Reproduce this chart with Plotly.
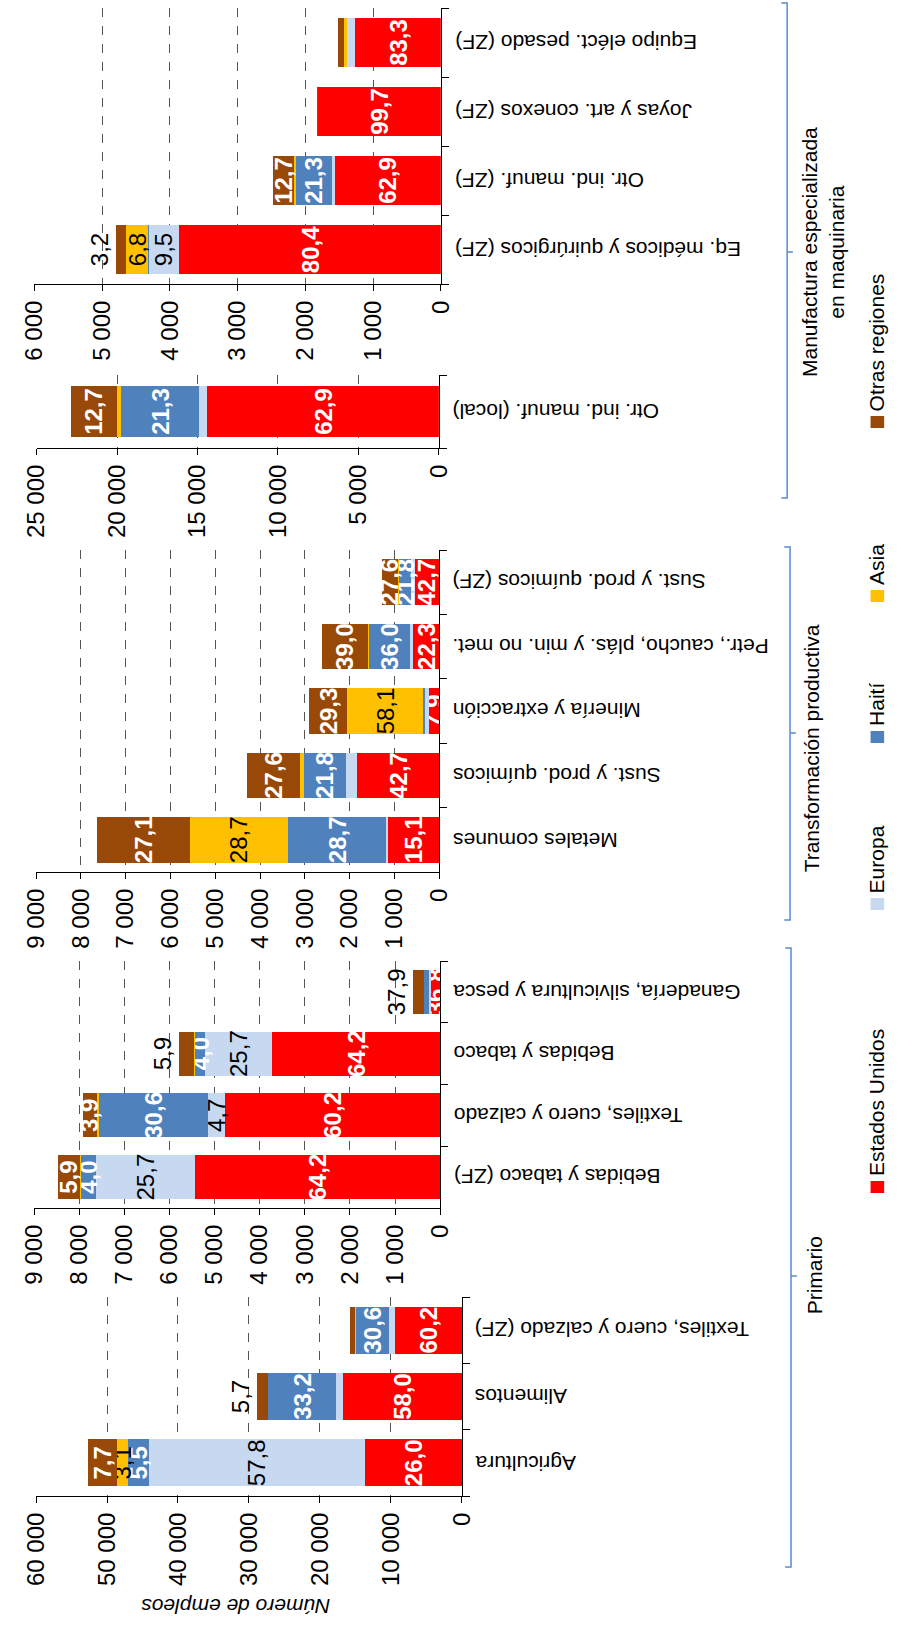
import plotly.graph_objects as go

W, H = 902, 1629

# ---------------- data ----------------
regions = ["Estados Unidos", "Europa", "Haití", "Asia", "Otras regiones"]
colors = ["#FF0000", "#C6D9F1", "#4F81BD", "#FFC000", "#984807"]

# Panel 1 (Primario)
cats_p1 = ["Agricultura", "Alimentos", "Textiles, cuero y calzado (ZF)"]
total_p1 = [52600, 28930, 15720]
us_p1 = [26.0, 58.0, 60.2]
eu_p1 = [57.8, 3.1, 4.7]
ht_p1 = [5.5, 33.2, 30.6]
as_p1 = [3.1, 0.0, 0.6]
ot_p1 = [7.7, 5.7, 3.9]
show_p1 = [[1, 1, 1], [1, 0, 0], [1, 1, 1], [1, 0, 0], [1, 2, 0]]

# Panel 2 (Primario)
cats_p2 = ["Bebidas y tabaco (ZF)", "Textiles, cuero y calzado", "Bebidas y tabaco",
           "Ganadería, silvicultura y pesca"]
total_p2 = [8480, 7920, 5790, 594]
us_p2 = [64.2, 60.2, 64.2, 36.8]
eu_p2 = [25.7, 4.7, 25.7, 3.0]
ht_p2 = [4.0, 30.6, 4.0, 22.3]
as_p2 = [0.2, 0.6, 0.2, 0.0]
ot_p2 = [5.9, 3.9, 5.9, 37.9]
show_p2 = [[1, 1, 1, 1], [1, 1, 1, 0], [1, 1, 1, 0], [0, 0, 0, 0], [1, 1, 2, 2]]

# Panel 3 (Transformación productiva)
cats_p3 = ["Metales comunes", "Sust. y prod. químicos", "Minería y extracción",
           "Petr., caucho, plás. y min. no met.", "Sust. y prod. químicos (ZF)"]
total_p3 = [7640, 4290, 2900, 2620, 1280]
us_p3 = [15.1, 42.7, 7.9, 22.3, 42.7]
eu_p3 = [0.4, 5.9, 3.0, 2.2, 5.9]
ht_p3 = [28.7, 21.8, 1.7, 36.0, 21.8]
as_p3 = [28.7, 2.0, 58.1, 0.5, 2.0]
ot_p3 = [27.1, 27.6, 29.3, 39.0, 27.6]
show_p3 = [[1, 1, 1, 1, 1], [0, 0, 0, 0, 0], [1, 1, 0, 1, 1], [1, 0, 1, 0, 0], [1, 1, 1, 1, 1]]

# Panel 4 (Manufactura especializada)
cats_p4 = ["Otr. ind. manuf. (local)"]
total_p4 = [22890]
us_p4 = [62.9]
eu_p4 = [2.1]
ht_p4 = [21.3]
as_p4 = [1.0]
ot_p4 = [12.7]
show_p4 = [[1], [0], [1], [0], [1]]

# Panel 5 (Manufactura especializada)
cats_p5 = ["Eq. médicos y quirúrgicos (ZF)", "Otr. ind. manuf. (ZF)",
           "Joyas y art. conexos (ZF)", "Equipo eléct. pesado (ZF)"]
total_p5 = [4800, 2480, 1815, 1513]
us_p5 = [80.4, 62.9, 99.7, 83.3]
eu_p5 = [9.5, 2.1, 0.1, 7.9]
ht_p5 = [0.1, 21.3, 0.0, 0.2]
as_p5 = [6.8, 1.0, 0.0, 3.2]
ot_p5 = [3.2, 12.7, 0.2, 5.4]
show_p5 = [[1, 1, 1, 1], [1, 0, 0, 0], [0, 1, 0, 0], [1, 0, 0, 0], [2, 1, 0, 0]]

axis_max = [60000, 9000, 9000, 25000, 6000]
axis_step = [10000, 1000, 1000, 5000, 1000]

groups = ["Manufactura especializada<br>en maquinaria", "Transformación productiva", "Primario"]
axis_title = "Número de empleos"

panels = [
    (cats_p1, total_p1, [us_p1, eu_p1, ht_p1, as_p1, ot_p1], show_p1),
    (cats_p2, total_p2, [us_p2, eu_p2, ht_p2, as_p2, ot_p2], show_p2),
    (cats_p3, total_p3, [us_p3, eu_p3, ht_p3, as_p3, ot_p3], show_p3),
    (cats_p4, total_p4, [us_p4, eu_p4, ht_p4, as_p4, ot_p4], show_p4),
    (cats_p5, total_p5, [us_p5, eu_p5, ht_p5, as_p5, ot_p5], show_p5),
]

# ---------------- layout geometry (pixels) ----------------
geo = [
    dict(x0=22.7, x1=461.7, y0=1297, y1=1496),
    dict(x0=20.7, x1=439.3, y0=961, y1=1208),
    dict(x0=22.7, x1=438.3, y0=550, y1=872),
    dict(x0=23.3, x1=438.0, y0=375, y1=448),
    dict(x0=21.0, x1=440.0, y0=8, y1=284),
]


def px(x):
    return x / W


def py(y):
    return 1 - y / H


NARROW = "Liberation Sans Narrow, Arial Narrow, sans-serif"
SANS = "Liberation Sans, Arial, sans-serif"

white_bold = dict(family=NARROW, size=24, color="white", weight="bold")
black_reg = dict(family=NARROW, size=24, color="black", weight="normal")
region_font = [white_bold, black_reg, white_bold, black_reg, white_bold]


def fmt(v):
    return f"{v:.1f}".replace(".", ",")


fig = go.Figure()
annotations = []
shapes = []
layout_axes = {}

for k, ((cats, totals, shares, show), g) in enumerate(zip(panels, geo), start=1):
    xa = "x" if k == 1 else f"x{k}"
    ya = "y" if k == 1 else f"y{k}"
    for r, (name, col) in enumerate(zip(regions, colors)):
        vals = [t * p / 100 for t, p in zip(totals, shares[r])]
        texts = [fmt(p) for p in shares[r]]
        pos = [{0: "none", 1: "inside", 2: "outside"}[s] for s in show[r]]
        fig.add_trace(go.Bar(
            y=cats, x=vals, orientation="h", name=name,
            marker=dict(color=col, line=dict(width=0)),
            text=texts, textposition=pos, textangle=-90,
            insidetextanchor="middle", constraintext="none", cliponaxis=False,
            textfont=region_font[r], insidetextfont=region_font[r],
            outsidetextfont=black_reg,
            xaxis=xa, yaxis=ya, hoverinfo="skip", showlegend=False,
        ))
    vmax = axis_max[k - 1]
    step = axis_step[k - 1]
    tv = list(range(0, vmax + 1, step))
    tt = [f"{v:,}".replace(",", " ") for v in tv]
    xkey = "xaxis" if k == 1 else f"xaxis{k}"
    ykey = "yaxis" if k == 1 else f"yaxis{k}"
    layout_axes[xkey] = dict(
        domain=[px(g["x0"]), px(g["x1"])], anchor=ya, range=[vmax, 0],
        tickvals=tv, ticktext=tt, tickangle=-90,
        tickfont=dict(family=NARROW, size=24, color="black"),
        ticks="outside", ticklen=6, tickcolor="black",
        showline=True, linecolor="black", linewidth=1,
        showgrid=True, gridcolor="#555555", griddash="dash", gridwidth=1,
        zeroline=False, fixedrange=True,
    )
    layout_axes[ykey] = dict(
        domain=[py(g["y1"]), py(g["y0"])], anchor=xa, side="right",
        type="category", categoryorder="array", categoryarray=cats,
        range=[-0.5, len(cats) - 0.5],
        showticklabels=False, ticks="outside", ticklen=7, tickcolor="black",
        tickson="boundaries", showline=True, linecolor="black", linewidth=1,
        showgrid=False, zeroline=False, fixedrange=True,
    )
    for c in cats:
        annotations.append(dict(
            text=c, xref="paper", yref=ya, x=px(g["x1"] + 12), y=c,
            xanchor="left", yanchor="middle", textangle=180, showarrow=False,
            font=dict(family=SANS, size=21, color="black"),
        ))

# axis title
annotations.append(dict(
    text=axis_title, xref="paper", yref="paper", x=px(228), y=py(1607),
    xanchor="center", yanchor="middle", textangle=180, showarrow=False,
    font=dict(family=SANS, size=21, color="black", style="italic"),
))

# group brackets and labels
brackets = [(3, 498, 252, 797), (547, 920, 733, 800), (948, 1567, 1276, 801)]
group_label_pos = [(834, 252), (823, 748), (825, 1275)]
for (top, bot, mid, xb), txt, (lx, ly) in zip(brackets, groups, group_label_pos):
    path = (f"M {px(xb - 6)},{py(top)} L {px(xb)},{py(top)} L {px(xb)},{py(bot)} "
            f"L {px(xb - 6)},{py(bot)} M {px(xb)},{py(mid)} L {px(xb + 6)},{py(mid)}")
    shapes.append(dict(type="path", path=path, xref="paper", yref="paper",
                       line=dict(color="#5B8BD0", width=1.5)))
    annotations.append(dict(
        text=txt, xref="paper", yref="paper", x=px(lx), y=py(ly),
        xanchor="center", yanchor="middle", textangle=-90, showarrow=False,
        align="center", font=dict(family=SANS, size=21, color="black"),
    ))

# manual legend (rotated)
legend_sq = [1187, 904, 737, 596, 422]
for name, col, sy in zip(regions, colors, legend_sq):
    shapes.append(dict(type="rect", xref="paper", yref="paper",
                       x0=px(883), x1=px(897), y0=py(sy + 6), y1=py(sy - 6),
                       fillcolor=col, line=dict(width=0)))
    annotations.append(dict(
        text=name, xref="paper", yref="paper", x=px(889), y=py(sy - 9),
        xanchor="center", yanchor="bottom", textangle=-90, showarrow=False,
        font=dict(family=SANS, size=21, color="black"),
    ))

fig.update_layout(
    width=W, height=H, margin=dict(l=0, r=0, t=0, b=0),
    paper_bgcolor="white", plot_bgcolor="white",
    barmode="stack", bargap=0.29, showlegend=False,
    annotations=annotations, shapes=shapes,
    **layout_axes,
)

fig.write_html("out.html", config={"displayModeBar": False},
               post_script="document.body.style.margin='0';")
